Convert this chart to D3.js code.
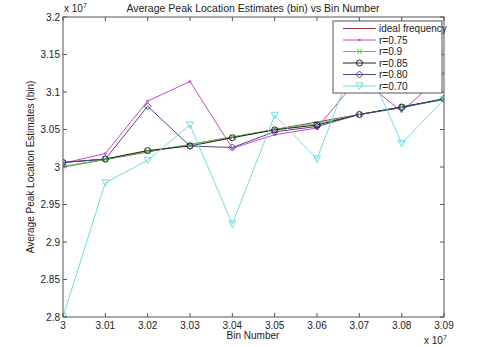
<!DOCTYPE html>
<html><head><meta charset="utf-8">
<script src="https://cdn.jsdelivr.net/npm/d3@7"></script>
<style>body{margin:0;background:#fff}svg{display:block;font-family:"Liberation Sans",Arial,sans-serif}</style>
</head><body><svg id="c" width="491" height="347"></svg>
<script>
const bins = [3.00,3.01,3.02,3.03,3.04,3.05,3.06,3.07,3.08,3.09];
const xTicks = [3.00,3.01,3.02,3.03,3.04,3.05,3.06,3.07,3.08,3.09];
const yTicks = [2.8,2.85,2.9,2.95,3.0,3.05,3.1,3.15,3.2];
const ideal = [3.00,3.01,3.02,3.03,3.04,3.05,3.06,3.07,3.08,3.09];
const r075 = [3.005,3.018,3.088,3.114,3.025,3.043,3.052,3.12,3.074,3.125];
const r09  = [3.001,3.010,3.021,3.030,3.040,3.050,3.058,3.070,3.080,3.090];
const r085 = [3.006,3.0107,3.022,3.028,3.039,3.0495,3.056,3.070,3.080,3.091];
const r080 = [3.006,3.0105,3.081,3.028,3.026,3.047,3.054,3.070,3.079,3.091];
const r070 = [2.80,2.979,3.009,3.056,2.924,3.069,3.0107,3.16,3.0315,3.09];
const names = ["ideal frequency","r=0.75","r=0.9","r=0.85","r=0.80","r=0.70"];
const colors = ["#9b3b3b","#cc44cc","#55cc55","#222222","#4a4a8a","#6fdede"];
const markers = ["none","dot","x","circle","diamond","tri"];
const seriesVals = [ideal,r075,r09,r085,r080,r070];

const svg = d3.select("#c");
const L=63,R=444,T=17,B=317;
const x = d3.scaleLinear().domain([3.00,3.09]).range([L,R]);
const y = d3.scaleLinear().domain([2.8,3.2]).range([B,T]);

const clip = svg.append("defs").append("clipPath").attr("id","pc");
clip.append("rect").attr("x",L).attr("y",T).attr("width",R-L).attr("height",B-T);

function drawMarker(g,type,cx,cy,col){
  if(type==="dot") g.append("circle").attr("cx",cx).attr("cy",cy).attr("r",1.3).attr("fill",col);
  else if(type==="x") g.append("path").attr("d",`M${cx-2.5},${cy-2.5}L${cx+2.5},${cy+2.5}M${cx-2.5},${cy+2.5}L${cx+2.5},${cy-2.5}`).attr("stroke",col).attr("fill","none");
  else if(type==="circle") g.append("circle").attr("cx",cx).attr("cy",cy).attr("r",3).attr("stroke",col).attr("fill","none");
  else if(type==="diamond") g.append("path").attr("d",`M${cx},${cy-3.5}L${cx+3.5},${cy}L${cx},${cy+3.5}L${cx-3.5},${cy}Z`).attr("stroke",col).attr("fill","none");
  else if(type==="tri") g.append("path").attr("d",`M${cx-3.5},${cy-3}L${cx+3.5},${cy-3}L${cx},${cy+3.5}Z`).attr("stroke",col).attr("fill","none");
}

const plot = svg.append("g").attr("clip-path","url(#pc)");
const line = d3.line().x((d,i)=>x(bins[i])).y(d=>y(d));
seriesVals.forEach((vals,k)=>{
  plot.append("path").attr("d",line(vals)).attr("fill","none").attr("stroke",colors[k]).attr("stroke-width",1);
});
seriesVals.forEach((vals,k)=>{
  if(markers[k]==="none") return;
  const g = plot.append("g");
  vals.forEach((v,i)=>drawMarker(g,markers[k],x(bins[i]),y(v),colors[k]));
});

// axes box
const ax = svg.append("g").attr("font-size",10).attr("fill","#222");
ax.append("rect").attr("x",L).attr("y",T).attr("width",R-L).attr("height",B-T).attr("fill","none").attr("stroke","#555").attr("stroke-width",1);
const tk=4;
xTicks.forEach(t=>{
  ax.append("line").attr("x1",x(t)).attr("x2",x(t)).attr("y1",B).attr("y2",B-tk).attr("stroke","#555");
  ax.append("line").attr("x1",x(t)).attr("x2",x(t)).attr("y1",T).attr("y2",T+tk).attr("stroke","#555");
  ax.append("text").attr("x",x(t)).attr("y",B+12).attr("text-anchor","middle").text(d3.format(".2f")(t).replace(/^3\.00$/,"3"));
});
yTicks.forEach(t=>{
  ax.append("line").attr("x1",L).attr("x2",L+tk).attr("y1",y(t)).attr("y2",y(t)).attr("stroke","#555");
  ax.append("line").attr("x1",R).attr("x2",R-tk).attr("y1",y(t)).attr("y2",y(t)).attr("stroke","#555");
  ax.append("text").attr("x",L-3).attr("y",y(t)+3.5).attr("text-anchor","end").text(String(+t.toFixed(2)));
});
// exponent labels
const e1 = ax.append("text").attr("x",64).attr("y",12).attr("font-size",10);
e1.append("tspan").text("x 10");
e1.append("tspan").attr("dy",-4).attr("font-size",7).text("7");
const e2 = ax.append("text").attr("x",424).attr("y",344).attr("font-size",10);
e2.append("tspan").text("x 10");
e2.append("tspan").attr("dy",-4).attr("font-size",7).text("7");

svg.append("text").attr("x",253).attr("y",12).attr("text-anchor","middle").attr("font-size",10.5).attr("fill","#222").text("Average Peak Location Estimates (bin) vs Bin Number");
svg.append("text").attr("x",253).attr("y",339).attr("text-anchor","middle").attr("font-size",10).attr("fill","#222").text("Bin Number");
svg.append("text").attr("transform","translate(34,167) rotate(-90)").attr("text-anchor","middle").attr("font-size",10).attr("fill","#222").text("Average Peak Location Estimates (bin)");

// legend
const lg = svg.append("g");
lg.append("rect").attr("x",333).attr("y",21).attr("width",109).attr("height",72).attr("fill","#fff").attr("stroke","#555");
names.forEach((n,k)=>{
  const yy = 28.5 + k*11.5;
  lg.append("line").attr("x1",343).attr("x2",376).attr("y1",yy).attr("y2",yy).attr("stroke",colors[k]);
  if(markers[k]!=="none") drawMarker(lg,markers[k],359.5,yy,colors[k]);
  lg.append("text").attr("x",379).attr("y",yy+3.5).attr("font-size",10).attr("fill","#222").text(n);
});
</script></body></html>
